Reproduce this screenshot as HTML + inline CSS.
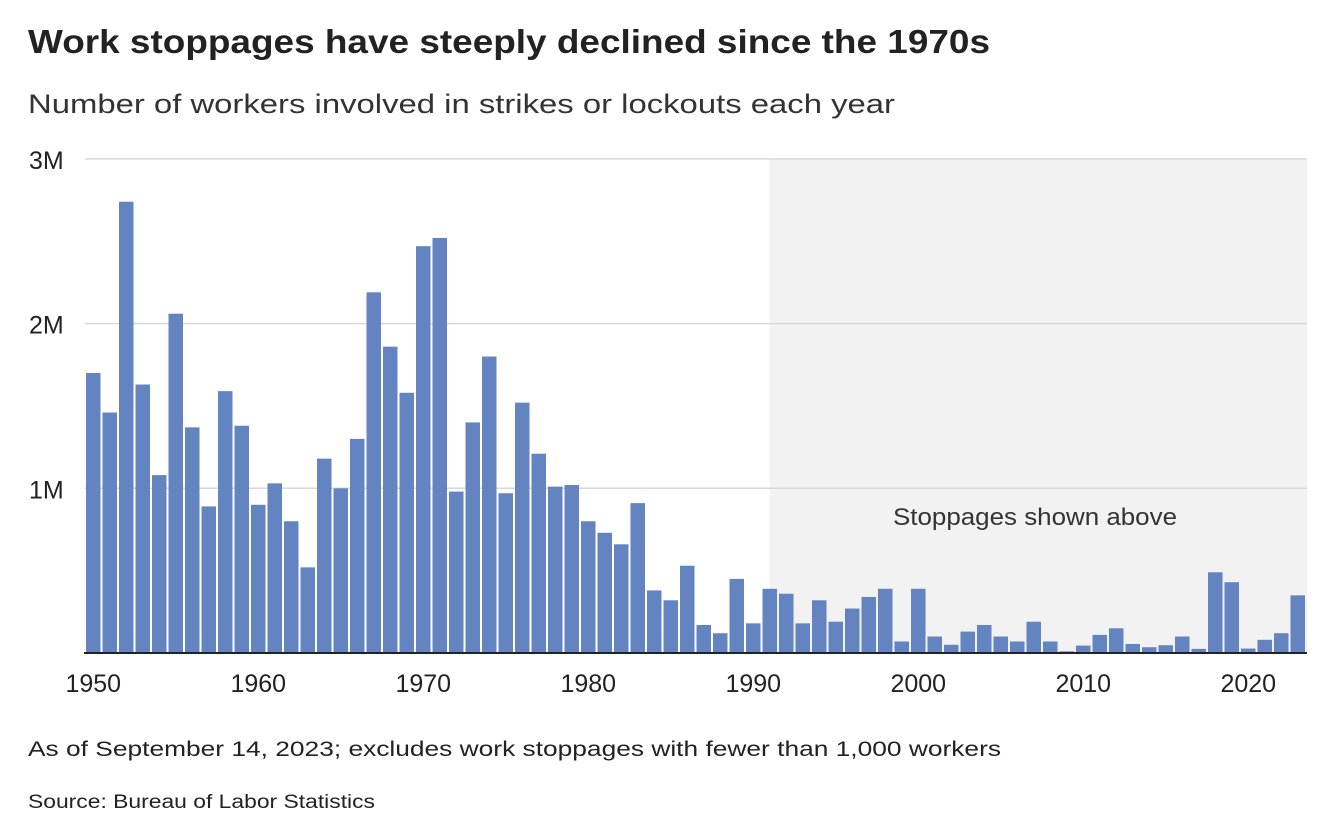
<!DOCTYPE html>
<html><head><meta charset="utf-8"><style>
body{margin:0;background:#fff;font-family:"Liberation Sans",sans-serif;color:#222;}
svg text{font-family:"Liberation Sans",sans-serif;}
</style></head><body>
<svg width="1332" height="826">
<text x="28" y="53" font-size="33" font-weight="bold" fill="#222" textLength="962" lengthAdjust="spacingAndGlyphs">Work stoppages have steeply declined since the 1970s</text>
<text x="28" y="113" font-size="27" fill="#333" textLength="867" lengthAdjust="spacingAndGlyphs">Number of workers involved in strikes or lockouts each year</text>
<g id="plot"></g>
<text x="28" y="756" font-size="21" fill="#222" textLength="973" lengthAdjust="spacingAndGlyphs">As of September 14, 2023; excludes work stoppages with fewer than 1,000 workers</text>
<text x="28" y="808" font-size="19" fill="#222" textLength="347" lengthAdjust="spacingAndGlyphs">Source: Bureau of Labor Statistics</text>
</svg>
<script>
const years=[];for(let y=1950;y<=2023;y++)years.push(y);
const values=[1.70,1.46,2.74,1.63,1.08,2.06,1.37,0.89,1.59,1.38,0.90,1.03,0.80,0.52,1.18,1.00,1.30,2.19,1.86,1.58,2.47,2.52,0.98,1.40,1.80,0.97,1.52,1.21,1.01,1.02,0.80,0.73,0.66,0.91,0.38,0.32,0.53,0.17,0.12,0.45,0.18,0.39,0.36,0.18,0.32,0.19,0.27,0.34,0.39,0.07,0.39,0.10,0.05,0.13,0.17,0.10,0.07,0.19,0.07,0.01,0.045,0.11,0.15,0.055,0.035,0.047,0.10,0.025,0.49,0.43,0.027,0.08,0.12,0.35];
const yTicks=[0,1,2,3];
const yTickLabels=["","1M","2M","3M"];
const xTicks=[1950,1960,1970,1980,1990,2000,2010,2020];
const shadeStart=1991;
const NS="http://www.w3.org/2000/svg";
const g=document.getElementById('plot');
const x0=85,bw=16.5,yb=653,ppm=164.7;
const xs=yr=>x0+(yr-1950)*bw;
const ys=v=>yb-v*ppm;
function mk(t,a){const e=document.createElementNS(NS,t);for(const k in a)e.setAttribute(k,a[k]);g.appendChild(e);return e;}
let sh=mk('rect',{x:xs(shadeStart)+bw/2,y:ys(3),width:1307-(xs(shadeStart)+bw/2),height:ys(0)-ys(3),fill:'#f2f2f2'});


yTicks.forEach((t,i)=>{
 if(t>0){const l=mk('line',{x1:85,x2:1307,y1:ys(t),y2:ys(t),stroke:'#d9d9d9','stroke-width':1.5});
 
 }
 const tx=mk('text',{x:29,y:ys(t)+10,'font-size':25,fill:'#222'});tx.textContent=yTickLabels[i];
 
 
});
const ann=mk('text',{x:1035,y:525,'font-size':24,fill:'#333','text-anchor':'middle',textLength:284,lengthAdjust:'spacingAndGlyphs'});ann.textContent='Stoppages shown above';


values.forEach((v,i)=>{
 const r=mk('rect',{x:xs(years[i])+1,y:ys(v),width:bw-2,height:ys(0)-ys(v),fill:'#6384c1'});
 
 
});
const ax=mk('line',{x1:84,x2:1307,y1:yb,y2:yb,stroke:'#222','stroke-width':2});


xTicks.forEach(t=>{
 const tx=mk('text',{x:xs(t)+bw/2,y:692,'font-size':25,fill:'#222','text-anchor':'middle'});tx.textContent=t;
 
 
});
</script>
</body></html>
